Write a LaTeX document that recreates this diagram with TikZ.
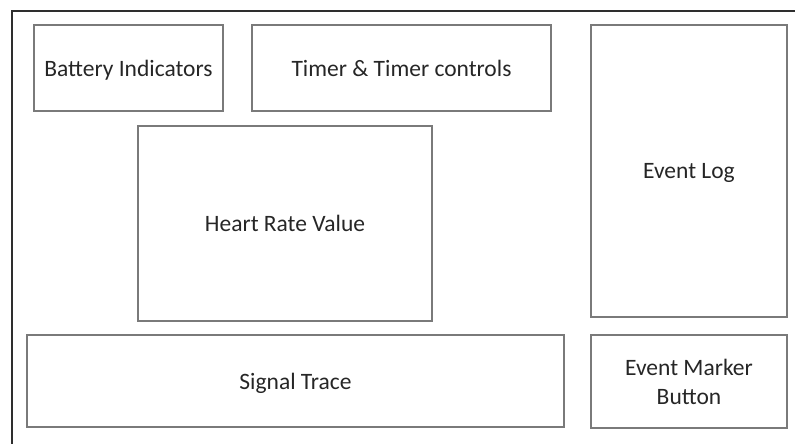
\documentclass[tikz,border=0pt]{standalone}
\usepackage{fontspec}
\setmainfont{Carlito}
\definecolor{boxgray}{HTML}{7A7A7A}
\definecolor{framegray}{HTML}{2E2E2E}
\definecolor{txtgray}{HTML}{262626}
\begin{document}
\begin{tikzpicture}[x=1pt,y=-1pt,
  panel/.style={draw=boxgray, line width=1.4pt, inner sep=0pt, align=center,
    text=txtgray, font=\fontsize{23.5}{29}\selectfont},
  oneline/.style={panel, text depth=0pt}]
\useasboundingbox (0,0) rectangle (795,444);
\coordinate (fb) at (12,444);
\coordinate (fc) at (12,11);
\coordinate (fr) at (795,11);
\draw[framegray, line width=2pt] (fb) -- (fc) -- (fr);
\node[oneline, minimum width=189pt, minimum height=86pt] (bat) at (128.5,68) {Battery Indicators};
\node[oneline, minimum width=299pt, minimum height=86pt] (tim) at (401.5,68) {Timer \& Timer controls};
\node[oneline, minimum width=196pt, minimum height=292pt] (log) at (689,171) {Event Log};
\node[oneline, minimum width=294pt, minimum height=195pt] (hr) at (285,223.5) {Heart Rate Value};
\node[oneline, minimum width=537pt, minimum height=92pt] (sig) at (295.5,381) {Signal Trace};
\node[panel, minimum width=196pt, minimum height=93pt] (evm) at (689,381.5) {Event Marker\\Button};
\end{tikzpicture}
\end{document}
